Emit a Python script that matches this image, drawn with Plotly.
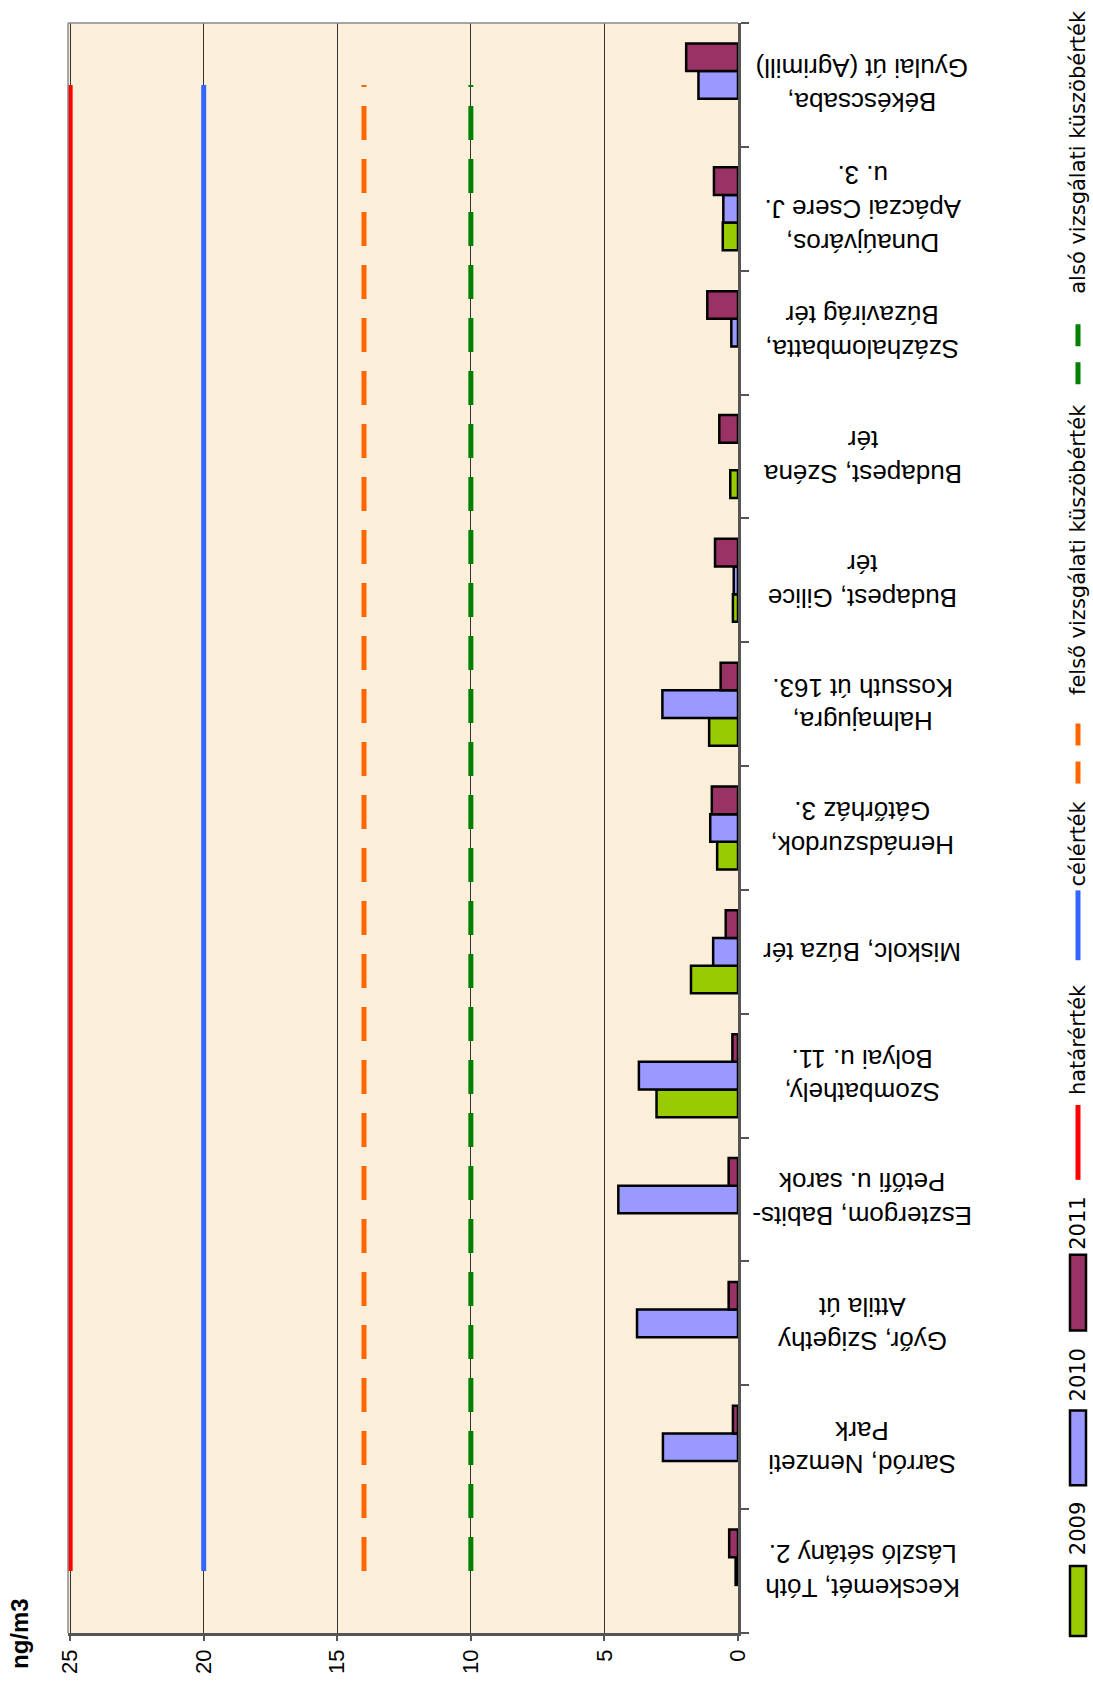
import plotly.graph_objects as go

categories = [
    "Kecskemét, Tóth<br>László sétány 2.",
    "Sarród, Nemzeti<br>Park",
    "Győr, Szigethy<br>Attila út",
    "Esztergom, Babits-<br>Petőfi u. sarok",
    "Szombathely,<br>Bolyai u. 11.",
    "Miskolc, Búza tér",
    "Hernádszurdok,<br>Gátőrház 3.",
    "Halmajugra,<br>Kossuth út 163.",
    "Budapest, Gilice<br>tér",
    "Budapest, Széna<br>tér",
    "Százhalombatta,<br>Búzavirág tér",
    "Dunaújváros,<br>Apáczai Csere J.<br>u. 3.",
    "Békéscsaba,<br>Gyulai út (Agrimill)",
]
v2009 = [None, None, None, None, 3.05, 1.76, 0.78, 1.08, 0.19, 0.29, None, 0.57, None]
v2010 = [0.09, 2.81, 3.78, 4.48, 3.71, 0.93, 1.04, 2.83, 0.16, None, 0.25, 0.55, 1.48]
v2011 = [0.33, 0.19, 0.35, 0.35, 0.21, 0.46, 0.98, 0.65, 0.86, 0.70, 1.15, 0.90, 1.94]

hatarertek = 25
celertek = 20
felso_kuszob = 14
also_kuszob = 10

value_ticks = [0, 5, 10, 15, 20, 25]

# layout geometry (pixels)
W, H = 1093, 1686
PL, PR, PT, PB = 68, 738, 23, 1636
XMAX = 25.08


def px(X):
    return (X - PL) / (PR - PL)


def py(Y):
    return (PB - Y) / (PB - PT)


FONT = "Liberation Sans, Arial, sans-serif"
LEGFONT = "DejaVu Sans, sans-serif"

fig = go.Figure()

bar_series = [("2009", v2009, "#99CC00"), ("2010", v2010, "#9999FF"), ("2011", v2011, "#993366")]
for name, vals, col in bar_series:
    fig.add_trace(go.Bar(
        name=name, y=categories, x=vals, orientation="h",
        marker=dict(color=col, line=dict(color="black", width=2.5)),
        showlegend=False,
    ))

line_series = [
    ("határérték", hatarertek, "#FF0000", "solid"),
    ("célérték", celertek, "#3366FF", "solid"),
    ("felső vizsgálati küszöbérték", felso_kuszob, "#FF6600", "34px,19px"),
    ("alsó vizsgálati küszöbérték", also_kuszob, "#008000", "34px,19px"),
]
for name, val, col, dash in line_series:
    fig.add_trace(go.Scatter(
        name=name, y=categories, x=[val] * len(categories), mode="lines",
        line=dict(color=col, width=5, dash=dash),
        showlegend=False,
    ))

annotations = []
shapes = []

# category labels (rotated 180 degrees)
for c in categories:
    annotations.append(dict(
        x=px(862), xref="paper", y=c, yref="y", text=c, showarrow=False,
        textangle=180, xanchor="center", yanchor="middle", align="center",
        font=dict(family=FONT, size=26, color="black"),
    ))

# unit label
annotations.append(dict(
    x=px(20), xref="paper", y=py(1637), yref="paper", text="<b>ng/m3</b>",
    showarrow=False, textangle=-90, xanchor="center", yanchor="middle",
    font=dict(family=FONT, size=24, color="black"),
))

# plot border top & left
shapes.append(dict(type="line", xref="paper", yref="paper", x0=0, x1=1, y0=1, y1=1,
                   line=dict(color="#8a8a8a", width=1.5), layer="above"))
shapes.append(dict(type="line", xref="paper", yref="paper", x0=0, x1=0, y0=0, y1=1,
                   line=dict(color="#8a8a8a", width=1.5), layer="above"))

# custom rotated legend
LX = 1078
leg_text_font = dict(family=LEGFONT, size=21, color="black")
for (name, vals, col), (y0, y1, ty) in zip(bar_series, [(1569, 1639, 1532), (1413, 1488, 1378), (1257, 1333, 1226)]):
    shapes.append(dict(type="rect", xref="paper", yref="paper",
                       x0=px(LX - 8), x1=px(LX + 8), y0=py(y1), y1=py(y0),
                       fillcolor=col, line=dict(color="black", width=2.5), layer="above"))
    annotations.append(dict(x=px(LX), xref="paper", y=py(ty), yref="paper", text=name,
                            showarrow=False, textangle=-90, xanchor="center", yanchor="middle",
                            font=leg_text_font))
for (name, val, col, dash), (y0, y1, ty) in zip(line_series, [(1107, 1182, 1042), (892, 962, 845), (709, 785, 551), (312, 385, 152)]):
    shapes.append(dict(type="line", xref="paper", yref="paper",
                       x0=px(LX), x1=px(LX), y0=py(y1), y1=py(y0),
                       line=dict(color=col, width=5, dash=("22px,16px" if dash != "solid" else "solid")),
                       layer="above"))
    annotations.append(dict(x=px(LX), xref="paper", y=py(ty), yref="paper", text=name,
                            showarrow=False, textangle=-90, xanchor="center", yanchor="middle",
                            font=leg_text_font))

fig.update_layout(
    width=W, height=H,
    margin=dict(l=PL, r=W - PR, t=PT, b=H - PB, pad=0),
    paper_bgcolor="white",
    plot_bgcolor="#FBEFDA",
    barmode="group", bargap=0.33, bargroupgap=0,
    showlegend=False,
    annotations=annotations,
    shapes=shapes,
    xaxis=dict(
        range=[XMAX, 0], tickvals=value_ticks, ticktext=[str(v) for v in value_ticks],
        tickangle=-90, tickfont=dict(family=FONT, size=22, color="black"),
        showgrid=True, gridcolor="#333333", gridwidth=1,
        showline=True, linecolor="#555555", linewidth=2.5,
        ticks="outside", ticklen=5, tickcolor="#555555", tickwidth=1.5,
        zeroline=False, fixedrange=True,
    ),
    yaxis=dict(
        type="category", categoryorder="array", categoryarray=categories,
        range=[-0.5, len(categories) - 0.5], autorange=False,
        side="right", showticklabels=False,
        showline=True, linecolor="#555555", linewidth=2.5,
        ticks="outside", ticklen=8, tickcolor="#555555", tickwidth=1.5,
        tickson="boundaries", showgrid=False, zeroline=False, fixedrange=True,
    ),
)

fig.write_html("out.html", config={"displayModeBar": False},
               post_script="document.body.style.margin='0px';")
